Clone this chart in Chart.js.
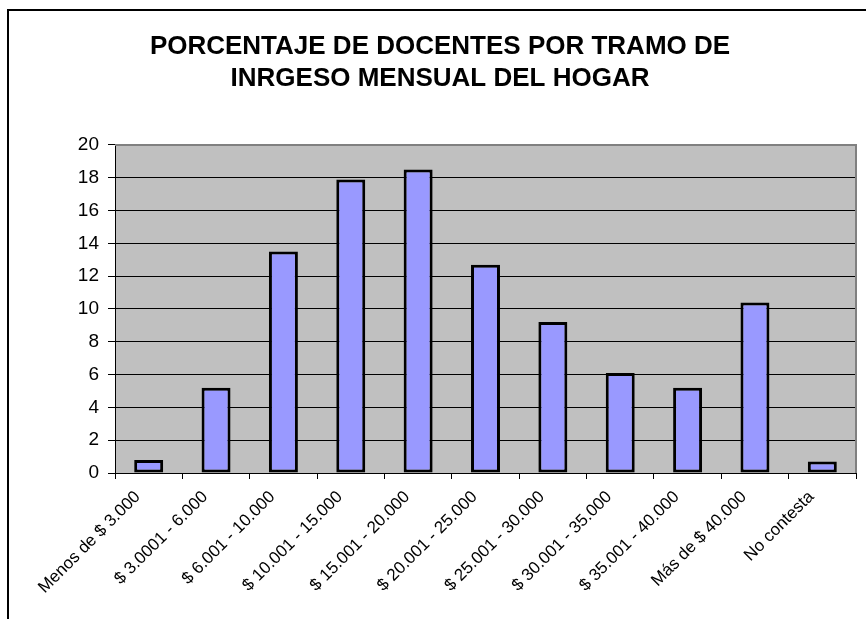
<!DOCTYPE html>
<html>
<head>
<meta charset="utf-8">
<script src="https://cdn.jsdelivr.net/npm/chart.js@4/dist/chart.umd.min.js"></script>
<style>
  html, body { margin: 0; padding: 0; background: #fff; }
  #wrap { width: 866px; height: 619px; position: relative; }
</style>
</head>
<body>
<div id="wrap"><canvas id="c" width="866" height="619"></canvas></div>
<script>
const categories = [
  "Menos de $ 3.000",
  "$ 3.0001 - 6.000",
  "$ 6.001 - 10.000",
  "$ 10.001 - 15.000",
  "$ 15.001 - 20.000",
  "$ 20.001 - 25.000",
  "$ 25.001 - 30.000",
  "$ 30.001 - 35.000",
  "$ 35.001 - 40.000",
  "Más de $ 40.000",
  "No contesta"
];
const percentages = [0.8, 5.2, 13.5, 17.9, 18.5, 12.7, 9.2, 6.1, 5.2, 10.4, 0.7];
const titleLines = ["PORCENTAJE DE DOCENTES POR TRAMO DE", "INRGESO MENSUAL DEL HOGAR"];

const framePlugin = {
  id: 'frameAndPlot',
  beforeDraw(chart) {
    const {ctx, chartArea: a} = chart;
    ctx.save();
    ctx.fillStyle = '#fff';
    ctx.fillRect(0, 0, chart.width, chart.height);
    ctx.fillStyle = '#C0C0C0';
    ctx.fillRect(a.left, a.top, a.right - a.left, a.bottom - a.top);
    ctx.restore();
  },
  afterDatasetsDraw(chart) {
    const {ctx, chartArea: a} = chart;
    ctx.save();
    ctx.strokeStyle = '#808080';
    ctx.lineWidth = 2;
    ctx.beginPath();
    ctx.moveTo(a.left, a.top);
    ctx.lineTo(a.right, a.top);
    ctx.lineTo(a.right, a.bottom);
    ctx.stroke();
    ctx.restore();
  },
  afterDraw(chart) {
    const {ctx} = chart;
    ctx.save();
    ctx.strokeStyle = '#000';
    ctx.lineWidth = 2;
    ctx.beginPath();
    ctx.moveTo(8, chart.height);
    ctx.lineTo(8, 10);
    ctx.lineTo(chart.width, 10);
    ctx.stroke();
    ctx.restore();
  }
};

new Chart(document.getElementById('c'), {
  type: 'bar',
  data: {
    labels: categories,
    datasets: [{
      data: percentages,
      backgroundColor: '#9999FF',
      borderColor: '#000000',
      borderWidth: 3,
      borderSkipped: false,
      barPercentage: 0.43,
      categoryPercentage: 1.0
    }]
  },
  options: {
    responsive: false,
    animation: false,
    devicePixelRatio: 1,
    layout: { padding: { left: 24, right: 10, top: 0, bottom: 0 } },
    plugins: {
      legend: { display: false },
      tooltip: { enabled: false },
      title: {
        display: true,
        text: titleLines,
        color: '#000',
        font: { family: 'Liberation Sans', size: 26, weight: 'bold', lineHeight: 1.23 },
        padding: { top: 31, bottom: 50 }
      }
    },
    scales: {
      x: {
        offset: true,
        grid: {
          offset: true,
          drawOnChartArea: false,
          drawTicks: true,
          tickLength: 6,
          color: '#000',
          lineWidth: 1
        },
        border: { display: true, color: '#000', width: 1 },
        ticks: {
          autoSkip: false,
          minRotation: 45,
          maxRotation: 45,
          color: '#000',
          padding: 8,
          labelOffset: -11,
          font: { family: 'Liberation Sans', size: 17 }
        },
        afterFit(scale) { scale.height = 146; }
      },
      y: {
        min: 0,
        max: 20,
        ticks: {
          stepSize: 2,
          color: '#000',
          padding: 9,
          font: { family: 'Liberation Sans', size: 19 }
        },
        grid: {
          color: (c) => (c.tick && c.tick.value === 20) ? 'rgba(0,0,0,0)' : '#000',
          tickColor: '#000',
          lineWidth: 1,
          tickLength: 7
        },
        border: { display: true, color: '#000', width: 1 },
        afterFit(scale) { scale.width = 91; }
      }
    }
  },
  plugins: [framePlugin]
});
</script>
</body>
</html>
